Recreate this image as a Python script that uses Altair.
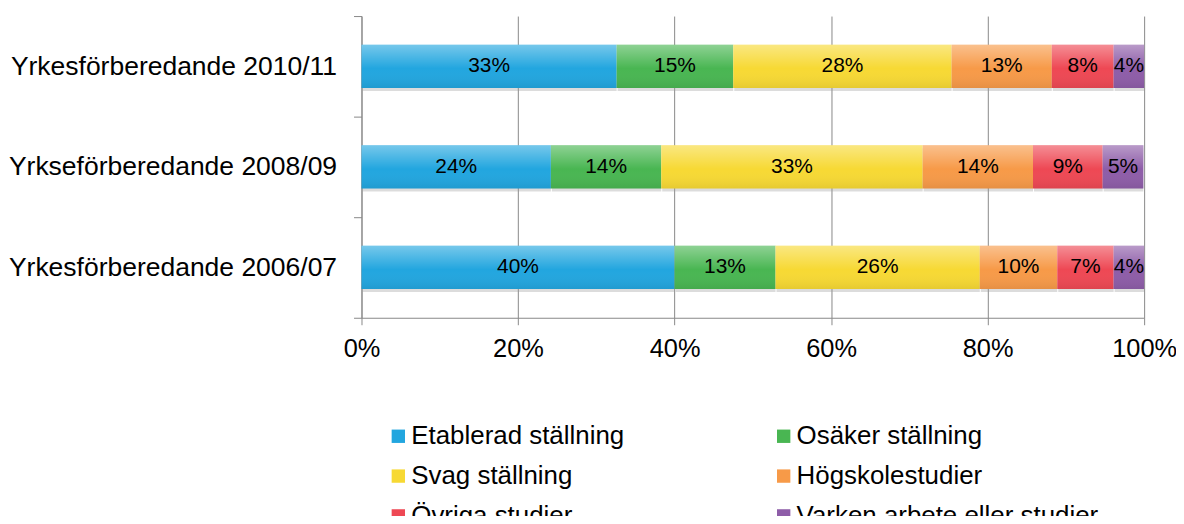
import altair as alt
import pandas as pd

categories = ["Yrkesförberedande 2010/11", "Yrkseförberedande 2008/09", "Yrkesförberedande 2006/07"]
series = ["Etablerad ställning", "Osäker ställning", "Svag ställning",
          "Högskolestudier", "Övriga studier", "Varken arbete eller studier"]
colors = ["#22A6DF", "#49B652", "#F7D934", "#F79A48", "#EE4854", "#8E5DA8"]

values_2010 = [32.6, 14.9, 27.9, 12.8, 7.9, 3.9]
values_2008 = [24.2, 14.1, 33.4, 14.1, 8.9, 5.2]
values_2006 = [40.0, 12.9, 26.1, 9.9, 7.2, 3.9]
labels_2010 = [33, 15, 28, 13, 8, 4]
labels_2008 = [24, 14, 33, 14, 9, 5]
labels_2006 = [40, 13, 26, 10, 7, 4]
x_ticks = [0, 20, 40, 60, 80, 100]

rows = []
for cat, vals, labs in zip(categories, [values_2010, values_2008, values_2006],
                           [labels_2010, labels_2008, labels_2006]):
    for i, (s, v, l) in enumerate(zip(series, vals, labs)):
        rows.append({"cat": cat, "series": s, "order": i, "value": v, "label": l})
df = pd.DataFrame(rows)

FONT = "Liberation Sans"

base = alt.Chart(df).transform_stack(
    stack="value", groupby=["cat"], sort=[alt.SortField("order")], as_=["x0", "x1"]
).transform_calculate(
    mid="(datum.x0 + datum.x1) / 2", lbl="datum.label + '%'"
)

yenc = alt.Y("cat:N", sort=categories,
             scale=alt.Scale(paddingInner=0, paddingOuter=0),
             axis=alt.Axis(title=None, tickBand="extent", labelFontSize=26.6, labelFont=FONT,
                           labelColor="#000", labelPadding=17, tickSize=8, tickColor="#888",
                           domainColor="#888", labelLimit=400))
xenc = alt.X("x0:Q", scale=alt.Scale(domain=[0, 100], nice=False),
             axis=alt.Axis(title=None, values=x_ticks, labelExpr="datum.value + '%'",
                           labelFontSize=25.5, labelFont=FONT, labelColor="#000", labelFlush=False,
                           labelPadding=12, tickSize=7, tickColor="#888", domainColor="#888",
                           grid=True, gridColor="#888", gridOpacity=1))

shadow = base.mark_bar(height=alt.RelativeBandSize(0.43), color="#9a9a9a", opacity=0.35,
                       yOffset=3, xOffset=1).encode(
    y=alt.Y("cat:N", sort=categories), x="x0:Q", x2="x1:Q"
)

bars = base.mark_bar(height=alt.RelativeBandSize(0.43)).encode(
    y=yenc, x=xenc, x2="x1:Q",
    color=alt.Color("series:N", sort=series,
                    scale=alt.Scale(domain=series, range=colors),
                    legend=alt.Legend(title=None, orient="none", legendX=24, legendY=409,
                                      columns=2, direction="horizontal", symbolType="square",
                                      symbolSize=180, symbolStrokeWidth=0, labelFontSize=26,
                                      labelFont=FONT, labelColor="#000", labelOffset=0,
                                      columnPadding=147, rowPadding=14, padding=0,
                                      labelLimit=400))
)

gloss = base.mark_bar(
    height=alt.RelativeBandSize(0.43),
    color=alt.Gradient(gradient="linear", x1=0, y1=0, x2=0, y2=1, stops=[
        alt.GradientStop(color="rgba(255,255,255,0.38)", offset=0),
        alt.GradientStop(color="rgba(255,255,255,0)", offset=0.55),
        alt.GradientStop(color="rgba(0,0,0,0.07)", offset=1),
    ])
).encode(y=alt.Y("cat:N", sort=categories), x="x0:Q", x2="x1:Q")

text = base.mark_text(fontSize=21, font=FONT, color="#000").encode(
    y=alt.Y("cat:N", sort=categories), x="mid:Q", text="lbl:N"
)

chart = alt.layer(shadow, bars, gloss, text).properties(
    width=786, height=303,
    autosize=alt.AutoSizeParams(type="none"),
    padding={"left": 355, "top": 7, "right": 32, "bottom": 198},
).configure_view(stroke=None)

chart.save("out.html", embed_options={"renderer": "svg", "actions": False})
